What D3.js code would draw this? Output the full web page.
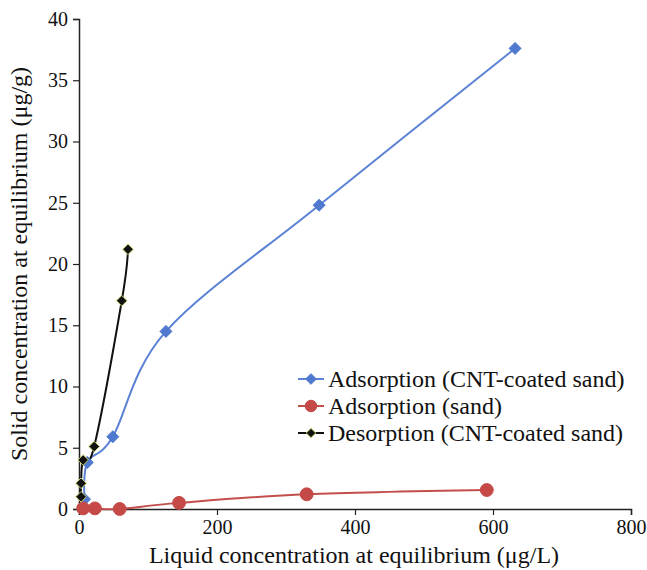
<!DOCTYPE html>
<html>
<head>
<meta charset="utf-8">
<script src="https://cdn.jsdelivr.net/npm/d3@7"></script>
<style>
    body { margin: 0; background: #fff; }
    svg text { font-family: 'Liberation Serif', 'Times New Roman', Times, serif; fill: #111; }
</style>
</head>
<body>
<svg id="chart" width="647" height="570"></svg>
<script>
/*global d3*/
// values
var seriesNames = ["Adsorption (CNT-coated sand)", "Adsorption (sand)", "Desorption (CNT-coated sand)"];
var cntAdsX = [8, 12, 49, 126, 348, 632];
var cntAdsY = [0.8, 3.8, 5.9, 14.5, 24.8, 37.6];
var sandAdsX = [6, 23, 59, 145, 330, 591];
var sandAdsY = [0.05, 0.05, 0, 0.5, 1.2, 1.55];
var cntDesX = [3, 3, 6, 22, 62, 71];
var cntDesY = [1.0, 2.1, 4.0, 5.1, 17.0, 21.2];
var xTicks = [0, 200, 400, 600, 800];
var yTicks = [0, 5, 10, 15, 20, 25, 30, 35, 40];

var FONT = "'Liberation Serif', 'Times New Roman', Times, serif";

var svg = d3.select("#chart"),
    margin = {left: 79, top: 19, right: 16, bottom: 61},
    width = 647 - margin.left - margin.right,
    height = 570 - margin.top - margin.bottom;

var x = d3.scaleLinear().domain([0, 800]).range([0, width]),
    y = d3.scaleLinear().domain([0, 40]).range([height, 0]);

var g = svg.append("g").attr("transform", "translate(" + margin.left + "," + margin.top + ")");

function zip(xs, ys) {
    return xs.map(function (d, i) { return {x: d, y: ys[i]}; });
}

// Excel-style diamond: a square turned 45 degrees
var diamond = {
    draw: function (ctx, size) {
        var r = Math.sqrt(size / 2);
        ctx.moveTo(0, -r);
        ctx.lineTo(r, 0);
        ctx.lineTo(0, r);
        ctx.lineTo(-r, 0);
        ctx.closePath();
    }
};

var series = [
    {name: seriesNames[0], data: zip(cntAdsX, cntAdsY), color: "#5b82d4", fill: "#4e79cf", stroke: "#4e79cf", shape: diamond, size: 72},
    {name: seriesNames[1], data: zip(sandAdsX, sandAdsY), color: "#c24f4c", fill: "#c54a47", stroke: "#c54a47", shape: d3.symbolCircle, size: 130},
    {name: seriesNames[2], data: zip(cntDesX, cntDesY), color: "#111", fill: "#111", stroke: "#c5d16a", shape: diamond, size: 56}
];

// axes
var xAxis = g.append("g").attr("transform", "translate(0," + height + ")")
    .call(d3.axisBottom(x).tickValues(xTicks).tickSizeOuter(0).tickSize(6).tickPadding(5));
var yAxis = g.append("g")
    .call(d3.axisLeft(y).tickValues(yTicks).tickSizeOuter(0).tickSize(6).tickPadding(5));
[xAxis, yAxis].forEach(function (a) {
    a.attr("font-family", FONT).attr("font-size", 20);
    a.select(".domain").attr("stroke", "#222").attr("stroke-width", 1.5);
    a.selectAll(".tick line").attr("stroke", "#222").attr("stroke-width", 1.2);
    a.selectAll(".tick text").style("font-family", FONT).style("font-size", "20px").attr("fill", "#111");
});

var line = d3.line()
    .x(function (d) { return x(d.x); })
    .y(function (d) { return y(d.y); })
    .curve(d3.curveCatmullRom.alpha(0));

series.forEach(function (s) {
    g.append("path").datum(s.data)
        .attr("fill", "none")
        .attr("stroke", s.color)
        .attr("stroke-width", 2)
        .attr("d", line);
});
series.forEach(function (s) {
    g.selectAll(null).data(s.data).enter().append("path")
        .attr("transform", function (d) { return "translate(" + x(d.x) + "," + y(d.y) + ")"; })
        .attr("d", d3.symbol().type(s.shape).size(s.size))
        .attr("fill", s.fill)
        .attr("stroke", s.stroke)
        .attr("stroke-width", 1);
});

// legend
var legend = svg.append("g").attr("transform", "translate(298,379)");
series.forEach(function (s, i) {
    var row = legend.append("g").attr("transform", "translate(0," + (i * 27) + ")");
    row.append("line").attr("x1", 0).attr("x2", 26).attr("stroke", s.color).attr("stroke-width", 2);
    row.append("path").attr("transform", "translate(13,0)")
        .attr("d", d3.symbol().type(s.shape).size(s.size * 0.8))
        .attr("fill", s.fill).attr("stroke", s.stroke).attr("stroke-width", 1);
    row.append("text").attr("x", 30).attr("dy", "0.35em")
        .style("font-family", FONT).style("font-size", "24px").text(s.name);
});

// axis titles
svg.append("text")
    .attr("x", margin.left + width / 2 - 1).attr("y", 563)
    .attr("text-anchor", "middle").style("font-family", FONT).style("font-size", "24px")
    .text("Liquid concentration at equilibrium (\u03bcg/L)");
svg.append("text")
    .attr("transform", "translate(27," + (margin.top + height / 2) + ") rotate(-90)")
    .attr("text-anchor", "middle").style("font-family", FONT).style("font-size", "24px")
    .text("Solid concentration at equilibrium (\u03bcg/g)");
</script>
</body>
</html>
